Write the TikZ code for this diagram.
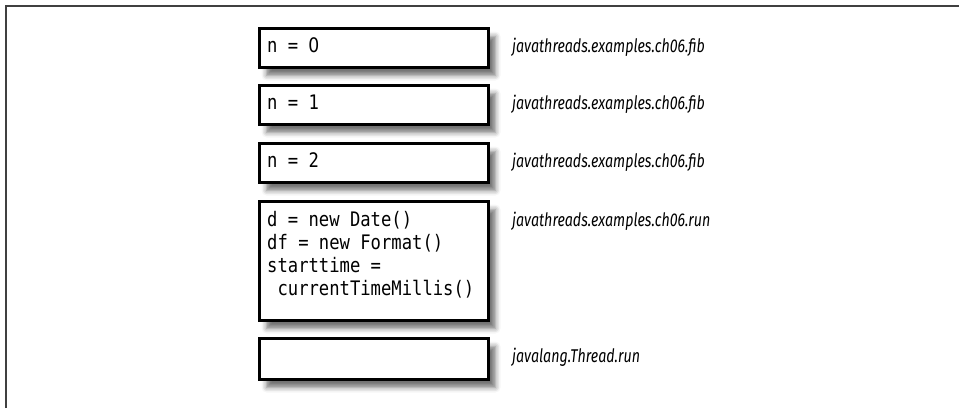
\documentclass[tikz,border=0pt]{standalone}
\usepackage{fontspec}
\usetikzlibrary{shadows.blur}
\newfontfamily\codefont[FakeStretch=0.86]{DejaVu Sans Mono}
\newfontfamily\digitfont[FakeStretch=0.86]{DejaVu Sans}
\newfontfamily\labelfont[FakeStretch=0.77]{Fira Sans}
% an undotted zero set in the width of one code cell
\newcommand{\plainzero}{\makebox[\fontcharwd\font`0][c]{\digitfont 0}}
\tikzset{
  x=1pt, y=-1pt,
  frame/.style={line width=2pt, draw=black!75},
  framebox/.style={draw=black, line width=3pt, fill=white, inner sep=0pt,
    minimum width=229pt, anchor=north west,
    blur shadow={shadow xshift=7pt, shadow yshift=-8pt, shadow blur radius=5pt, shadow opacity=55}},
  code/.style={inner sep=0pt, anchor=base west, align=left,
    font=\codefont\fontsize{20}{23}\selectfont},
  tag/.style={inner sep=0pt, anchor=base west,
    font=\labelfont\itshape\fontsize{18.5}{22}\selectfont, text=black}
}
\begin{document}
\begin{tikzpicture}
\useasboundingbox (0,0) rectangle (959,408);
% outer frame: top and left rules
\draw[frame] (6,408) -- (6,6) -- (959,6);

% stack frames
\node[framebox, minimum height=39pt] (b1) at (258,27) {};
\node[framebox, minimum height=39pt] (b2) at (258,84) {};
\node[framebox, minimum height=39pt] (b3) at (258,142) {};
\node[framebox, minimum height=119pt] (b4) at (258,200) {};
\node[framebox, minimum height=41pt] (b5) at (258,337) {};

% frame contents (a multi-line node sits on its last baseline)
\node[code] (c1) at (267,52) {n = \plainzero};
\node[code] (c2) at (267,109) {n = 1};
\node[code] (c3) at (267,167) {n = 2};
\node[code] (c4) at (267,295) {d = new Date()\\df = new Format()\\starttime =\\\mbox{}\ currentTimeMillis()};

% method names
\node[tag] (t1) at (512,52) {javathreads.examples.ch06.fib};
\node[tag] (t2) at (512,109) {javathreads.examples.ch06.fib};
\node[tag] (t3) at (512,167) {javathreads.examples.ch06.fib};
\node[tag] (t4) at (512,226) {javathreads.examples.ch06.run};
\node[tag] (t5) at (512,362) {javalang.Thread.run};
\end{tikzpicture}
\end{document}
